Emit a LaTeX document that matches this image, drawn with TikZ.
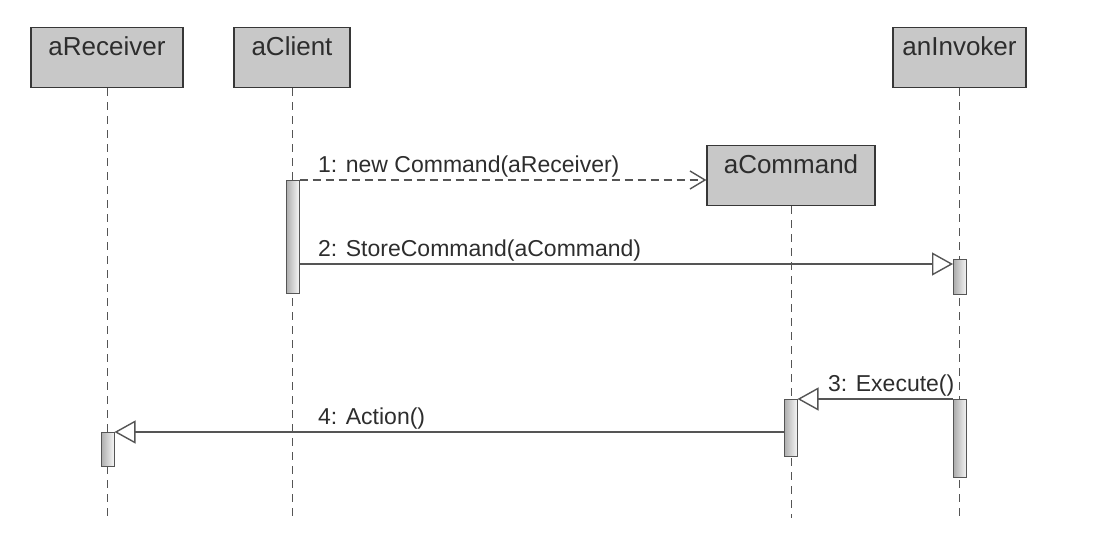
\documentclass[tikz,border=0pt]{standalone}
\usepackage{fontspec}
\setmainfont{Liberation Sans}
\usetikzlibrary{arrows.meta}

\definecolor{boxgray}{RGB}{200,200,200}
\definecolor{edgegray}{RGB}{55,55,55}
\definecolor{linegray}{RGB}{85,85,85}
\definecolor{textgray}{RGB}{45,45,45}

\tikzset{
    objbox/.style={draw=edgegray, line width=1.3pt, fill=boxgray, text=textgray,
        font=\fontsize{26}{30}\selectfont, inner ysep=6pt,
        text height=22pt, text depth=26pt},
    lifeline/.style={draw=linegray, line width=1pt, dash pattern=on 8pt off 6pt},
    actbar/.style={draw=linegray, line width=1pt, left color=gray!65, right color=gray!8,
        minimum width=13pt, inner sep=0pt, anchor=north},
    call/.style={draw=linegray, line width=1.4pt,
        -{Triangle[open, length=21pt, width=23pt, fill=white]}},
    create/.style={draw=linegray, line width=1.4pt, dash pattern=on 8pt off 5pt,
        -{Straight Barb[length=15pt, width=18pt]}},
    msglabel/.style={text=textgray, font=\fontsize{23}{27}\selectfont,
        inner sep=0pt, anchor=base west}
}

\begin{document}
\begin{tikzpicture}[x=1pt, y=-1pt]
    \useasboundingbox (0,0) rectangle (1104,550);

    \node[objbox, minimum width=152pt, anchor=north] (rcv) at (107,27) {aReceiver};
    \node[objbox, minimum width=116pt, anchor=north] (cli) at (292,27) {aClient};
    \node[objbox, minimum width=133pt, anchor=north] (inv) at (959.5,27) {anInvoker};
    \node[objbox, minimum width=168pt, anchor=north] (cmd) at (791,145) {aCommand};

    \coordinate (bottom) at (0,518);
    \draw[lifeline] (rcv.south) -- (rcv.south |- bottom);
    \draw[lifeline] (cli.south) -- (cli.south |- bottom);
    \draw[lifeline] (inv.south) -- (inv.south |- bottom);
    \draw[lifeline] (cmd.south) -- (cmd.south |- bottom);

    \node[actbar, minimum height=113pt] (cliact) at (292.5,180) {};
    \node[actbar, minimum height=35pt] (invact1) at (960,259) {};
    \node[actbar, minimum height=57pt] (cmdact) at (790.5,399) {};
    \node[actbar, minimum height=78pt] (invact2) at (960,399) {};
    \node[actbar, minimum height=34pt] (rcvact) at (107.5,432) {};

    \draw[create] (cliact.north east) -- (cliact.north east -| cmd.west);
    \node[msglabel] (m1) at (318,172) {1: new Command(aReceiver)};

    \coordinate (m2y) at (0,264);
    \draw[call] (cliact.east |- m2y) -- (invact1.west |- m2y);
    \node[msglabel] (m2) at (318,256) {2: StoreCommand(aCommand)};

    \draw[call] (invact2.north west) -- (cmdact.north east);
    \node[msglabel] (m3) at (828,391) {3: Execute()};

    \draw[call] (cmdact.west |- rcvact.north) -- (rcvact.north east);
    \node[msglabel] (m4) at (318,424) {4: Action()};
\end{tikzpicture}
\end{document}
